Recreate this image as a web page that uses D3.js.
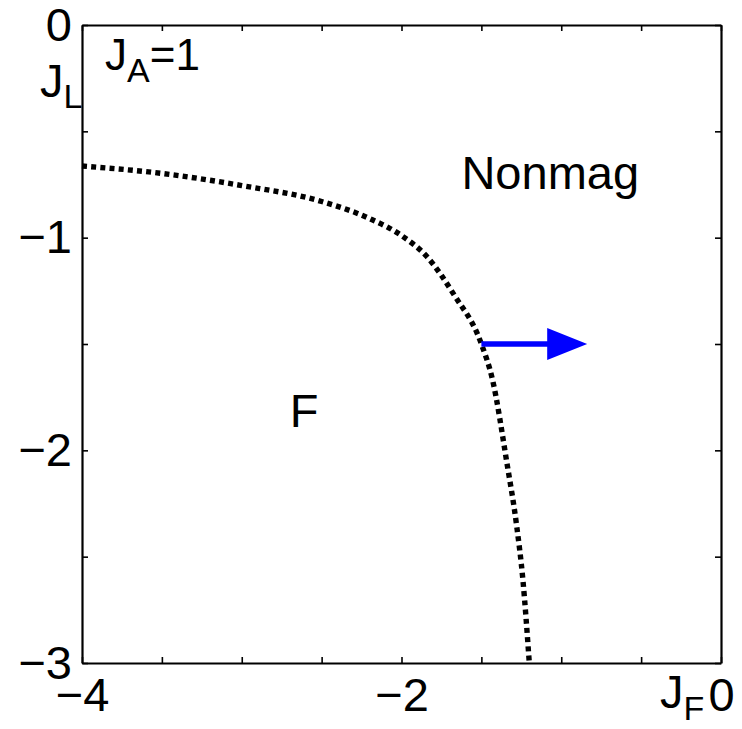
<!DOCTYPE html>
<html>
<head>
<meta charset="utf-8">
<script src="https://cdn.jsdelivr.net/npm/d3@7/dist/d3.min.js"></script>
<style>
  html, body { margin: 0; padding: 0; background: #fff; }
  svg text { font-family: "Liberation Sans", Arial, "DejaVu Sans", sans-serif; fill: #000; }
</style>
</head>
<body>
<svg id="chart" width="742" height="729"></svg>
<script>
// Phase boundary between the ferromagnetic (F) and nonmagnetic regions
const jfBoundary = [-4.0, -3.5, -3.0, -2.5, -2.2, -2.0, -1.84, -1.67, -1.5, -1.43, -1.34, -1.28, -1.24, -1.2];
const jlBoundary = [-0.663, -0.698, -0.755, -0.83, -0.91, -0.99, -1.09, -1.27, -1.5, -1.669, -2.06, -2.35, -2.61, -3.0];

// Tick positions and labels
const xTicks = [-4, -3.5, -3, -2.5, -2, -1.5, -1, -0.5, 0];
const xTickLabels = {"-4": "\u22124", "-2": "\u22122", "0": "0"};
const yTicks = [0, -0.5, -1, -1.5, -2, -2.5, -3];
const yTickLabels = {"0": "0", "-1": "\u22121", "-2": "\u22122", "-3": "\u22123"};

// Arrow from the boundary into the nonmagnetic phase
const arrowStart = [-1.5, -1.5];
const arrowEnd = [-0.8375, -1.5];

// Region labels
const regionLabels = [
  {text: "Nonmag", x: -1.625, y: -0.771},
  {text: "F", x: -2.7, y: -1.89}
];

const svg = d3.select("#chart");
const margin = {left: 82, right: 21, top: 25, bottom: 66};
const W = 742, H = 729;

const x = d3.scaleLinear().domain([-4, 0]).range([margin.left, W - margin.right]);
const y = d3.scaleLinear().domain([-3, 0]).range([H - margin.bottom, margin.top]);

const fontSize = 47;

// Axes with inward ticks on all four sides
const axLeft = d3.axisLeft(y).tickValues(yTicks).tickSizeInner(-6).tickSizeOuter(0).tickPadding(10)
  .tickFormat(d => yTickLabels[String(d)] || "");
const axRight = d3.axisRight(y).tickValues(yTicks).tickSizeInner(-6).tickSizeOuter(0).tickFormat("");
const axBottom = d3.axisBottom(x).tickValues(xTicks).tickSizeInner(-6).tickSizeOuter(0).tickPadding(15)
  .tickFormat(d => xTickLabels[String(d)] || "");
const axTop = d3.axisTop(x).tickValues(xTicks).tickSizeInner(-6).tickSizeOuter(0).tickFormat("");

function styleAxis(g) {
  g.select(".domain").attr("stroke", "#000").attr("stroke-width", 2.2);
  g.selectAll(".tick line").attr("stroke", "#000").attr("stroke-width", 1.6);
  g.selectAll(".tick text").style("font-size", fontSize + "px").attr("fill", "#000");
}

svg.append("g").attr("transform", `translate(${margin.left},0)`).call(axLeft).call(styleAxis);
svg.append("g").attr("transform", `translate(${W - margin.right},0)`).call(axRight).call(styleAxis);
svg.append("g").attr("transform", `translate(0,${H - margin.bottom})`).call(axBottom).call(styleAxis);
svg.append("g").attr("transform", `translate(0,${margin.top})`).call(axTop).call(styleAxis);

// Dotted boundary curve
const line = d3.line()
  .x(d => x(d[0]))
  .y(d => y(d[1]))
  .curve(d3.curveMonotoneX);

svg.append("path")
  .datum(jfBoundary.map((v, i) => [v, jlBoundary[i]]))
  .attr("d", line)
  .attr("fill", "none")
  .attr("stroke", "#000")
  .attr("stroke-width", 5.4)
  .attr("stroke-dasharray", "5,4.2");

// Blue arrow
const headLen = 40, headHalf = 16;
const ax0 = x(arrowStart[0]), ay = y(arrowStart[1]), ax1 = x(arrowEnd[0]);
svg.append("line")
  .attr("x1", ax0).attr("y1", ay)
  .attr("x2", ax1 - headLen + 1).attr("y2", ay)
  .attr("stroke", "#0000ff").attr("stroke-width", 5.5);
svg.append("path")
  .attr("d", `M${ax1},${ay} L${ax1 - headLen},${ay - headHalf} L${ax1 - headLen},${ay + headHalf} Z`)
  .attr("fill", "#0000ff");

// Region labels
svg.selectAll("text.region")
  .data(regionLabels)
  .enter().append("text")
  .attr("class", "region")
  .attr("x", d => x(d.x))
  .attr("y", d => y(d.y))
  .style("font-size", fontSize + "px")
  .text(d => d.text);

// Axis titles and parameter label, with subscripts
function subLabel(px, py, main, sub, rest, size, subSize, subDy) {
  const t = svg.append("text").attr("x", px).attr("y", py).style("font-size", size + "px");
  t.append("tspan").text(main);
  t.append("tspan").attr("dy", subDy).style("font-size", subSize + "px").text(sub);
  if (rest) t.append("tspan").attr("dy", -subDy).text(rest);
}

subLabel(105, 70, "J", "A", "=1", 44, 34, 12);
subLabel(40, 97, "J", "L", null, 47, 34, 11);
subLabel(660, 708, "J", "F", null, 47, 34, 12);
</script>
</body>
</html>
